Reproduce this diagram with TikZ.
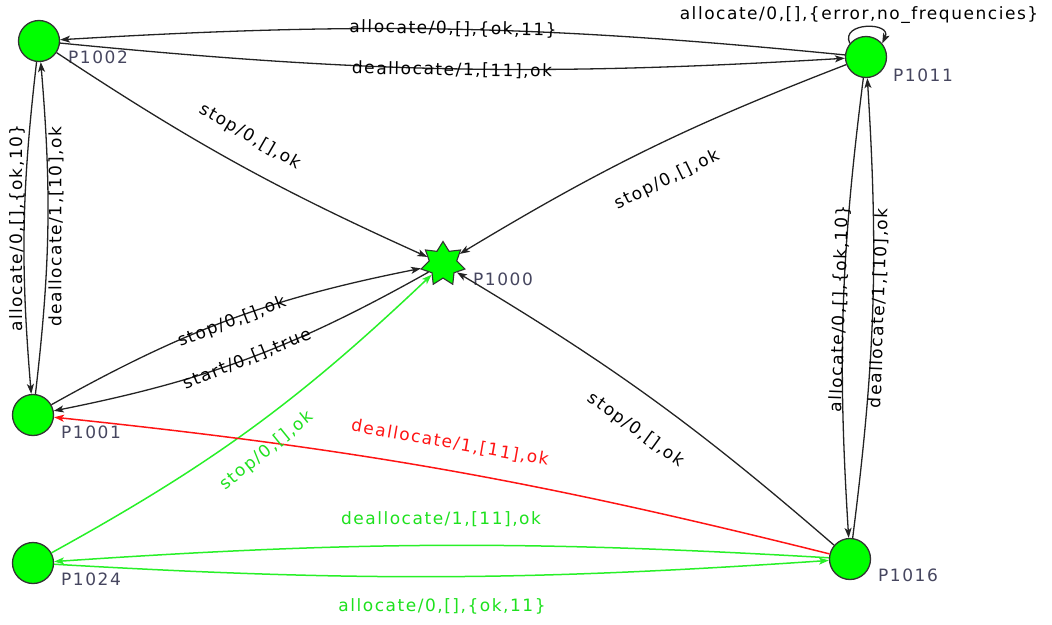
\documentclass[tikz,border=0pt]{standalone}
\usepackage{fontspec}
\newfontfamily\labfont{DejaVu Sans}[LetterSpace=9]
\usetikzlibrary{shapes.geometric,arrows.meta}
\definecolor{nodegreen}{RGB}{0,255,0}
\definecolor{edgegreen}{RGB}{40,240,40}
\definecolor{labgreen}{RGB}{30,225,30}
\definecolor{edgered}{RGB}{255,20,20}
\definecolor{nlab}{RGB}{70,70,95}
\definecolor{edgegray}{RGB}{35,35,35}
\begin{document}
\begin{tikzpicture}[x=1pt,y=1pt,
  state/.style={circle,draw=black!80,fill=nodegreen,line width=1.3pt,minimum size=41pt,inner sep=0pt},
  startstate/.style={star,star points=7,star point ratio=1.6,draw=black!80,fill=nodegreen,line width=1.1pt,minimum size=45pt,inner sep=0pt},
  nlabel/.style={font=\labfont\fontsize{17}{20}\selectfont,text=nlab,anchor=west,inner sep=0pt},
  elabel/.style={font=\labfont\fontsize{17}{20}\selectfont,inner sep=0pt},
  tip/.style={-{Stealth[length=10pt,width=7pt,inset=2.5pt]}},
  edge/.style={draw=edgegray,line width=1.3pt,tip},
  gedge/.style={draw=edgegreen,line width=1.5pt,tip},
  redge/.style={draw=edgered,line width=1.5pt,tip}
]
\path[use as bounding box] (0,0) rectangle (1052,-624);

% states
\node[state] (P1002) at (39,-41) {};
\node[state] (P1011) at (866,-57) {};
\node[startstate] (P1000) at (443,-264) {};
\node[state] (P1001) at (33,-415) {};
\node[state] (P1024) at (33,-563) {};
\node[state] (P1016) at (850,-559) {};

% state names
\node[nlabel] (lP1002) at (68,-57) {P1002};
\node[nlabel] (lP1011) at (893,-75) {P1011};
\node[nlabel] (lP1000) at (473,-279) {P1000};
\node[nlabel] (lP1001) at (61,-432) {P1001};
\node[nlabel] (lP1024) at (61,-579) {P1024};
\node[nlabel] (lP1016) at (878,-575) {P1016};

% transitions
\draw[edge] (P1011) to[bend right=4.5] (P1002);
\draw[edge] (P1002) to[bend right=4.5] (P1011);
\draw[edge] (P1011.140) .. controls +(115:24) and +(65:24) .. (P1011.40);
\draw[edge] (P1002) to[bend right=5.7] (P1001);
\draw[edge] (P1001) to[bend right=5.7] (P1002);
\draw[edge] (P1002) to[bend right=4.6] (P1000);
\draw[edge] (P1011) to[bend right=5] (P1000);
\draw[edge] (P1016) to[bend right=5] (P1000);
\draw[edge] (P1001) to[bend left=9] (P1000);
\draw[edge] (P1000) to[bend left=9] (P1001);
\draw[gedge] (P1024) to[bend right=7.3] (P1000);
\draw[redge] (P1016) to[bend right=4] (P1001);
\draw[gedge] (P1016) to[bend right=3.6] (P1024);
\draw[gedge] (P1024) to[bend right=3.6] (P1016);
\draw[edge] (P1011) to[bend right=5.4] (P1016);
\draw[edge] (P1016) to[bend right=5.4] (P1011);

% transition labels
\node[elabel,rotate=-1] (e1) at (453,-29) {allocate/0,[],\{ok,11\}};
\node[elabel,rotate=-1] (e2) at (452,-70) {deallocate/1,[11],ok};
\node[elabel] (e3) at (859,-15) {allocate/0,[],\{error,no\_frequencies\}};
\node[elabel,rotate=90] (e4) at (17,-228) {allocate/0,[],\{ok,10\}};
\node[elabel,rotate=90] (e5) at (56,-227) {deallocate/1,[10],ok};
\node[elabel,rotate=-30] (e6) at (250,-137) {stop/0,[],ok};
\node[elabel,rotate=26] (e7) at (667,-180) {stop/0,[],ok};
\node[elabel,rotate=-36] (e8) at (636,-430) {stop/0,[],ok};
\node[elabel,rotate=21] (e9) at (232,-322) {stop/0,[],ok};
\node[elabel,rotate=22] (e10) at (247,-359) {start/0,[],true};
\node[elabel,rotate=39,text=labgreen] (e11) at (267,-451) {stop/0,[],ok};
\node[elabel,rotate=-10,text=edgered] (e12) at (450,-443) {deallocate/1,[11],ok};
\node[elabel,text=labgreen] (e13) at (441,-519) {deallocate/1,[11],ok};
\node[elabel,text=labgreen] (e14) at (442,-606) {allocate/0,[],\{ok,11\}};
\node[elabel,rotate=88] (e15) at (840,-309) {allocate/0,[],\{ok,10\}};
\node[elabel,rotate=88] (e16) at (879,-308) {deallocate/1,[10],ok};
\end{tikzpicture}
\end{document}
